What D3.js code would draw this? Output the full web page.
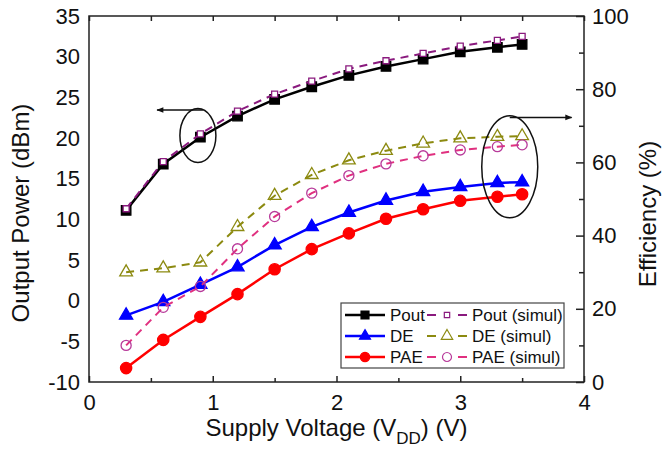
<!DOCTYPE html>
<html>
<head>
<meta charset="utf-8">
<script src="https://cdn.jsdelivr.net/npm/d3@7"></script>
<style>
body { margin: 0; background: #fff; }
text { font-family: "Liberation Sans", Arial, sans-serif; fill: #111; }
</style>
</head>
<body>
<svg id="chart" width="664" height="457"></svg>
<script>
const W = 664, H = 457
const M = { top: 16, right: 80, bottom: 75, left: 89 }

// data
const voltage = [0.3, 0.6, 0.9, 1.2, 1.5, 1.8, 2.1, 2.4, 2.7, 3.0, 3.3, 3.5]
const poutMeas = [11.1, 16.8, 20.1, 22.7, 24.75, 26.3, 27.7, 28.8, 29.7, 30.6, 31.15, 31.5]
const poutSim = [11.3, 17.1, 20.5, 23.3, 25.4, 27.0, 28.5, 29.5, 30.4, 31.3, 32.0, 32.5]
const deMeas = [18.2, 21.9, 26.6, 31.4, 37.4, 42.4, 46.3, 49.6, 52.0, 53.3, 54.4, 54.6]
const deSim = [30.0, 31.1, 32.7, 42.4, 50.9, 56.6, 60.6, 63.2, 65.2, 66.6, 67.0, 67.2]
const paeMeas = [3.8, 11.5, 17.8, 24.0, 30.8, 36.3, 40.6, 44.6, 47.2, 49.5, 50.6, 51.3]
const paeSim = [10.0, 20.4, 26.1, 36.4, 45.2, 51.6, 56.4, 59.6, 61.8, 63.4, 64.3, 64.8]

const xTicks = [0, 1, 2, 3, 4]
const xMinor = [0.5, 1.5, 2.5, 3.5]
const leftTicks = [-10, -5, 0, 5, 10, 15, 20, 25, 30, 35]
const rightTicks = [0, 20, 40, 60, 80, 100]
const rightMinor = [10, 30, 50, 70, 90]

// annotation ellipses/arrows, in data units
const ellLeft = { x: 0.88, y: 20.3 }, arrowLeft = { x1: 0.92, x2: 0.55, y: 23.45 }
const ellRight = { x: 3.40, y: 58.8 }, arrowRight = { x1: 3.40, x2: 3.90, y: 72.3 }

const plain = d => String(d) // keep ascii hyphen for negatives

const svg = d3.select("#chart")
const x = d3.scaleLinear().domain([0, 4]).range([M.left, W - M.right])
const yL = d3.scaleLinear().domain([-10, 35]).range([H - M.bottom, M.top])
const yR = d3.scaleLinear().domain([0, 100]).range([H - M.bottom, M.top])

svg.append("defs").append("marker")
    .attr("id", "arrow").attr("viewBox", "0 0 10 10")
    .attr("refX", 9).attr("refY", 5)
    .attr("markerWidth", 9).attr("markerHeight", 7)
    .attr("markerUnits", "userSpaceOnUse")
    .attr("orient", "auto")
    .append("path").attr("d", "M0,1 L10,5 L0,9 Z").attr("fill", "#111")

// axes
const bottom = H - M.bottom, right = W - M.right
svg.append("g").attr("transform", `translate(0,${bottom})`)
    .call(d3.axisBottom(x).tickValues(xTicks).tickSize(-6).tickPadding(12).tickFormat(plain))
    .call(g => g.select(".domain").remove())
    .call(g => g.selectAll("text").attr("font-size", 22).style("font-family", "Liberation Sans, Arial"))
svg.append("g").attr("transform", `translate(0,${bottom})`)
    .call(d3.axisBottom(x).tickValues(xMinor).tickSize(-4).tickFormat(""))
    .call(g => g.select(".domain").remove())
svg.append("g").attr("transform", `translate(0,${M.top})`)
    .call(d3.axisTop(x).tickValues(xTicks.concat(xMinor)).tickSize(-5).tickFormat(""))
    .call(g => g.select(".domain").remove())
svg.append("g").attr("transform", `translate(${M.left},0)`)
    .call(d3.axisLeft(yL).tickValues(leftTicks).tickSize(0).tickPadding(9).tickFormat(plain))
    .call(g => g.select(".domain").remove())
    .call(g => g.selectAll("text").attr("font-size", 22).style("font-family", "Liberation Sans, Arial"))
svg.append("g").attr("transform", `translate(${right},0)`)
    .call(d3.axisRight(yR).tickValues(rightTicks).tickSize(-8).tickPadding(8).tickFormat(plain))
    .call(g => g.select(".domain").remove())
    .call(g => g.selectAll("text").attr("font-size", 22).style("font-family", "Liberation Sans, Arial"))
svg.append("g").attr("transform", `translate(${right},0)`)
    .call(d3.axisRight(yR).tickValues(rightMinor).tickSize(-5).tickFormat(""))
    .call(g => g.select(".domain").remove())
svg.selectAll(".tick line").attr("stroke", "#222").attr("stroke-width", 1.5)

svg.append("rect")
    .attr("x", M.left).attr("y", M.top)
    .attr("width", right - M.left).attr("height", bottom - M.top)
    .attr("fill", "none").attr("stroke", "#222").attr("stroke-width", 1.5)

// titles
svg.append("text").attr("transform", `translate(29,${213}) rotate(-90)`)
    .attr("text-anchor", "middle").attr("font-size", 24).text("Output Power (dBm)")
svg.append("text").attr("transform", `translate(656,${214}) rotate(-90)`)
    .attr("text-anchor", "middle").attr("font-size", 24).text("Efficiency (%)")
const xt = svg.append("text").attr("x", (M.left + right) / 2).attr("y", 436)
    .attr("text-anchor", "middle").attr("font-size", 24)
xt.append("tspan").text("Supply Voltage (V")
xt.append("tspan").attr("font-size", 17).attr("dy", 8).text("DD")
xt.append("tspan").attr("dy", -8).text(") (V)")

// series
const series = [
    { name: "Pout", vals: poutMeas, y: yL, color: "#000", dash: null, sym: d3.symbolSquare, size: 90, fill: "#000", stroke: "#000", lw: 2.5 },
    { name: "DE", vals: deMeas, y: yR, color: "#0000ff", dash: null, sym: d3.symbolTriangle, size: 75, fill: "#0000ff", stroke: "#0000ff", lw: 2.5 },
    { name: "PAE", vals: paeMeas, y: yR, color: "#ff0000", dash: null, sym: d3.symbolCircle, size: 100, fill: "#ff0000", stroke: "#ff0000", lw: 2.5 },
    { name: "Pout (simul)", vals: poutSim, y: yL, color: "#8a1a7e", dash: "8,6", sym: d3.symbolSquare, size: 36, fill: "#fff", stroke: "#8a1a7e", lw: 2 },
    { name: "DE (simul)", vals: deSim, y: yR, color: "#8c8a10", dash: "8,6", sym: d3.symbolTriangle, size: 70, fill: "none", stroke: "#8c8a10", lw: 2 },
    { name: "PAE (simul)", vals: paeSim, y: yR, color: "#e0307f", dash: "8,6", sym: d3.symbolCircle, size: 80, fill: "none", stroke: "#b83a9a", lw: 2 }
]

series.forEach(s => {
    const pts = voltage.map((v, i) => [v, s.vals[i]])
    svg.append("path").datum(pts)
        .attr("d", d3.line().x(d => x(d[0])).y(d => s.y(d[1])))
        .attr("fill", "none").attr("stroke", s.color)
        .attr("stroke-width", s.lw).attr("stroke-dasharray", s.dash)
    svg.append("g").selectAll("path").data(pts).join("path")
        .attr("transform", d => `translate(${x(d[0])},${s.y(d[1])})`)
        .attr("d", d3.symbol(s.sym, s.size))
        .attr("fill", s.fill).attr("stroke", s.stroke).attr("stroke-width", 1.3)
})

// annotations
svg.append("ellipse").attr("cx", x(ellLeft.x)).attr("cy", yL(ellLeft.y))
    .attr("rx", 18).attr("ry", 27).attr("fill", "none").attr("stroke", "#111").attr("stroke-width", 1.5)
svg.append("line").attr("x1", x(arrowLeft.x1)).attr("x2", x(arrowLeft.x2))
    .attr("y1", yL(arrowLeft.y)).attr("y2", yL(arrowLeft.y))
    .attr("stroke", "#111").attr("stroke-width", 1.5).attr("marker-end", "url(#arrow)")
svg.append("ellipse").attr("cx", x(ellRight.x)).attr("cy", yR(ellRight.y))
    .attr("rx", 28).attr("ry", 51).attr("fill", "none").attr("stroke", "#111").attr("stroke-width", 1.5)
svg.append("line").attr("x1", x(arrowRight.x1)).attr("x2", x(arrowRight.x2))
    .attr("y1", yR(arrowRight.y)).attr("y2", yR(arrowRight.y))
    .attr("stroke", "#111").attr("stroke-width", 1.5).attr("marker-end", "url(#arrow)")

// legend
const LEG_X = 341, LEG_Y = 303
const leg = svg.append("g").attr("transform", `translate(${LEG_X},${LEG_Y})`)
leg.append("rect").attr("width", 223).attr("height", 65)
    .attr("fill", "#fff").attr("stroke", "#444").attr("stroke-width", 1.2)
series.forEach((s, i) => {
    const col = i < 3 ? 0 : 1, row = i % 3
    const lx = col === 0 ? 4 : 86, ty = 12 + row * 21
    const g = leg.append("g").attr("transform", `translate(${lx},${ty})`)
    g.append("line").attr("x1", 0).attr("x2", 40).attr("y1", 0).attr("y2", 0)
        .attr("stroke", s.color).attr("stroke-width", s.lw)
        .attr("stroke-dasharray", s.dash ? "9,22" : null)
    g.append("path").attr("transform", "translate(20,0)")
        .attr("d", d3.symbol(s.sym, col === 0 ? s.size * 0.7 : s.size * 0.8))
        .attr("fill", s.fill).attr("stroke", s.stroke).attr("stroke-width", 1.2)
    g.append("text").attr("x", 45).attr("y", 0).attr("dy", "0.35em")
        .attr("font-size", 17).text(s.name)
})
</script>
</body>
</html>
